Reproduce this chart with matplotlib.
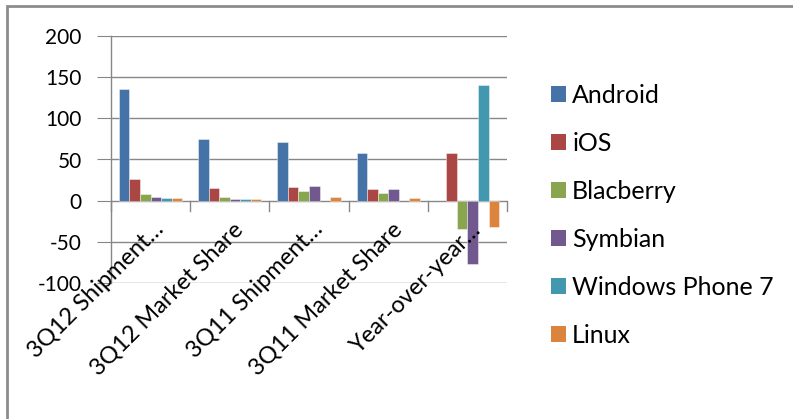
import numpy as np
import matplotlib
matplotlib.use("Agg")
import matplotlib.pyplot as plt
from matplotlib.patches import Rectangle, Patch

categories = ["3Q12 Shipment…", "3Q12 Market Share", "3Q11 Shipment…",
              "3Q11 Market Share", "Year-over-year…"]
series_names = ["Android", "iOS", "Blacberry", "Symbian", "Windows Phone 7", "Linux"]
android = [136.0, 75.0, 71.0, 57.5, np.nan]
ios = [26.9, 14.9, 17.1, 13.8, 57.3]
blackberry = [7.7, 4.3, 11.8, 9.5, -34.7]
symbian = [4.1, 2.3, 18.1, 14.6, -77.3]
wp7 = [3.6, 2.0, np.nan, np.nan, 140.0]
linux = [2.8, 1.5, 4.1, 3.3, -31.7]
yticks = [-100, -50, 0, 50, 100, 150, 200]

series = [android, ios, blackberry, symbian, wp7, linux]
colors = ['#4572A7', '#AA4643', '#89A54E', '#71588F', '#4198AF', '#DB843D']

plt.rcParams['font.family'] = ['Lato', 'DejaVu Sans']

fig = plt.figure(figsize=(7.93, 4.19), dpi=100)
W, H = 793, 419
ax = fig.add_axes([111 / W, 1 - 283 / H, (507 - 111) / W, (283 - 36) / H])

n = len(series)
gap = 1.5
bw = 1.0 / (n + gap)
x = np.arange(len(categories))
for i, (vals, c) in enumerate(zip(series, colors)):
    offs = -0.5 + gap * bw / 2 + (i + 0.5) * bw
    ax.bar(x + offs, vals, width=bw, color=c, edgecolor=(1, 1, 1, 0.5),
           linewidth=0.6, zorder=3)

ax.set_xlim(-0.5, len(categories) - 0.5)
ax.set_ylim(-100, 200)
ax.set_yticks(yticks)
ax.set_yticklabels([str(v) for v in yticks])
grid_c = '#878787'
for v in yticks:
    ax.axhline(v, color=grid_c, lw=1.0, zorder=1)
for s in ['top', 'right', 'bottom']:
    ax.spines[s].set_visible(False)
ax.spines['left'].set_color(grid_c)
ax.spines['left'].set_linewidth(1.0)
ax.tick_params(axis='y', length=10, color=grid_c, labelsize=15, pad=11,
               labelcolor='#000000')
ax.set_xticks([])
# category boundary ticks on zero line
for b in np.arange(-0.5, len(categories), 1.0):
    ax.plot([b, b], [0, -12], color=grid_c, lw=1.0, zorder=2, clip_on=False)

for i, lab in enumerate(categories):
    ax.annotate(lab, xy=(i, 0), xycoords='data',
                xytext=(2, -13), textcoords='offset points',
                rotation=45, ha='right', va='top', rotation_mode='anchor',
                fontsize=17, color='#000000', zorder=4)

handles = [Patch(facecolor=c, edgecolor='none') for c in colors]
fig.legend(handles, series_names, loc='upper left',
           bbox_to_anchor=(541 / W, 1 - 74 / H), frameon=False,
           fontsize=18, handlelength=0.6, handleheight=0.6,
           handletextpad=0.25, labelspacing=1.0, borderaxespad=0)

# outer chart border
fig.add_artist(Rectangle((7 / W, -0.1), 1.2, (1 - 6 / H) + 0.1,
                         transform=fig.transFigure, fill=False,
                         edgecolor='#8c8c8c', lw=2.0))

fig.savefig('out.png', dpi=100)
